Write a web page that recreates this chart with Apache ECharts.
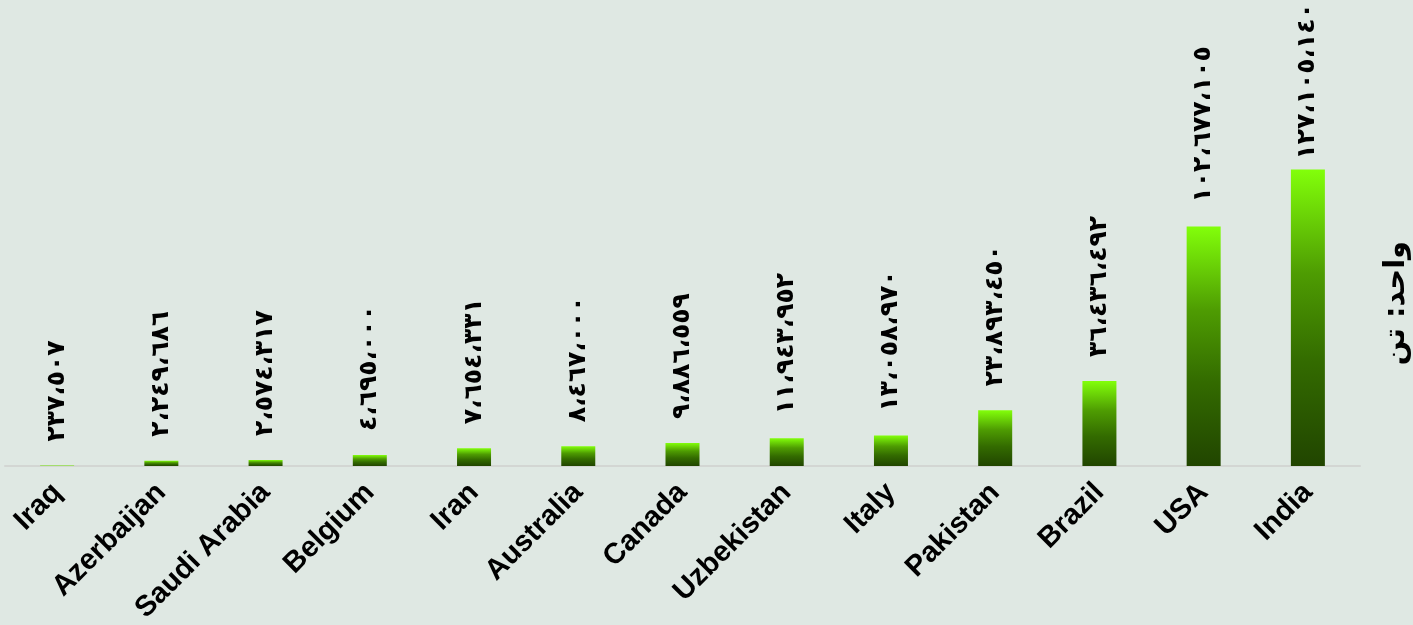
<!DOCTYPE html>
<html>
<head>
<meta charset="utf-8">
<script src="https://cdn.jsdelivr.net/npm/echarts@6/dist/echarts.min.js"></script>
<style>
html,body{margin:0;padding:0;background:#dfe8e3;}
#chart{width:1413px;height:625px;}
</style>
</head>
<body>
<div id="chart"></div>
<script>
const categories = ['Iraq','Azerbaijan','Saudi Arabia','Belgium','Iran','Australia','Canada','Uzbekistan','Italy','Pakistan','Brazil','USA','India'];
const values = [237507, 2249686, 2574317, 4695000, 7654331, 8467000, 9886559, 11943952, 13058970, 23893450, 36436492, 102677105, 127105140];
const unitLabel = 'واحد: تن';

function toArabicDigits(n){
  const d = '٠١٢٣٤٥٦٧٨٩';
  const s = String(n).replace(/\B(?=(\d{3})+(?!\d))/g, '،');
  return s.replace(/\d/g, c => d[+c]);
}

const maxVal = Math.max(...values);
const seriesData = values.map(v => v === maxVal ? { value: v, label: { distance: 10 } } : v);

const chart = echarts.init(document.getElementById('chart'));
chart.setOption({
  backgroundColor: '#dfe8e3',
  animation: false,
  grid: { left: 5, right: 53, top: 140, bottom: 159, containLabel: false, outerBoundsMode: 'none' },
  xAxis: {
    type: 'category',
    data: categories,
    axisLine: { show: true, lineStyle: { color: '#d3d6d3', width: 2 } },
    axisTick: { show: false },
    axisLabel: {
      rotate: 45, interval: 0, margin: 22,
      color: '#000', fontFamily: 'Liberation Sans, Arial', fontWeight: 'bold', fontSize: 29
    }
  },
  yAxis: {
    type: 'value',
    position: 'right',
    min: 0, max: 139800000,
    splitLine: { show: false },
    axisLine: { show: false },
    axisTick: { show: false },
    axisLabel: { show: false },
    name: unitLabel,
    nameLocation: 'middle',
    nameRotate: 90,
    nameGap: 22,
    nameTextStyle: { color: '#000', fontFamily: 'DejaVu Sans', fontWeight: 'bold', fontSize: 29 }
  },
  series: [{
    type: 'bar',
    data: seriesData,
    barWidth: 34,
    itemStyle: {
      color: new echarts.graphic.LinearGradient(0, 0, 0, 1, [
        { offset: 0, color: '#82ff0a' },
        { offset: 0.35, color: '#4e9c02' },
        { offset: 0.65, color: '#336b00' },
        { offset: 1, color: '#214500' }
      ])
    },
    label: {
      show: true,
      position: 'top',
      rotate: 90,
      align: 'left',
      verticalAlign: 'middle',
      distance: 24,
      color: '#000',
      fontFamily: 'DejaVu Sans',
      fontWeight: 'bold',
      fontSize: 25,
      formatter: p => toArabicDigits(p.value)
    }
  }]
});
</script>
</body>
</html>
